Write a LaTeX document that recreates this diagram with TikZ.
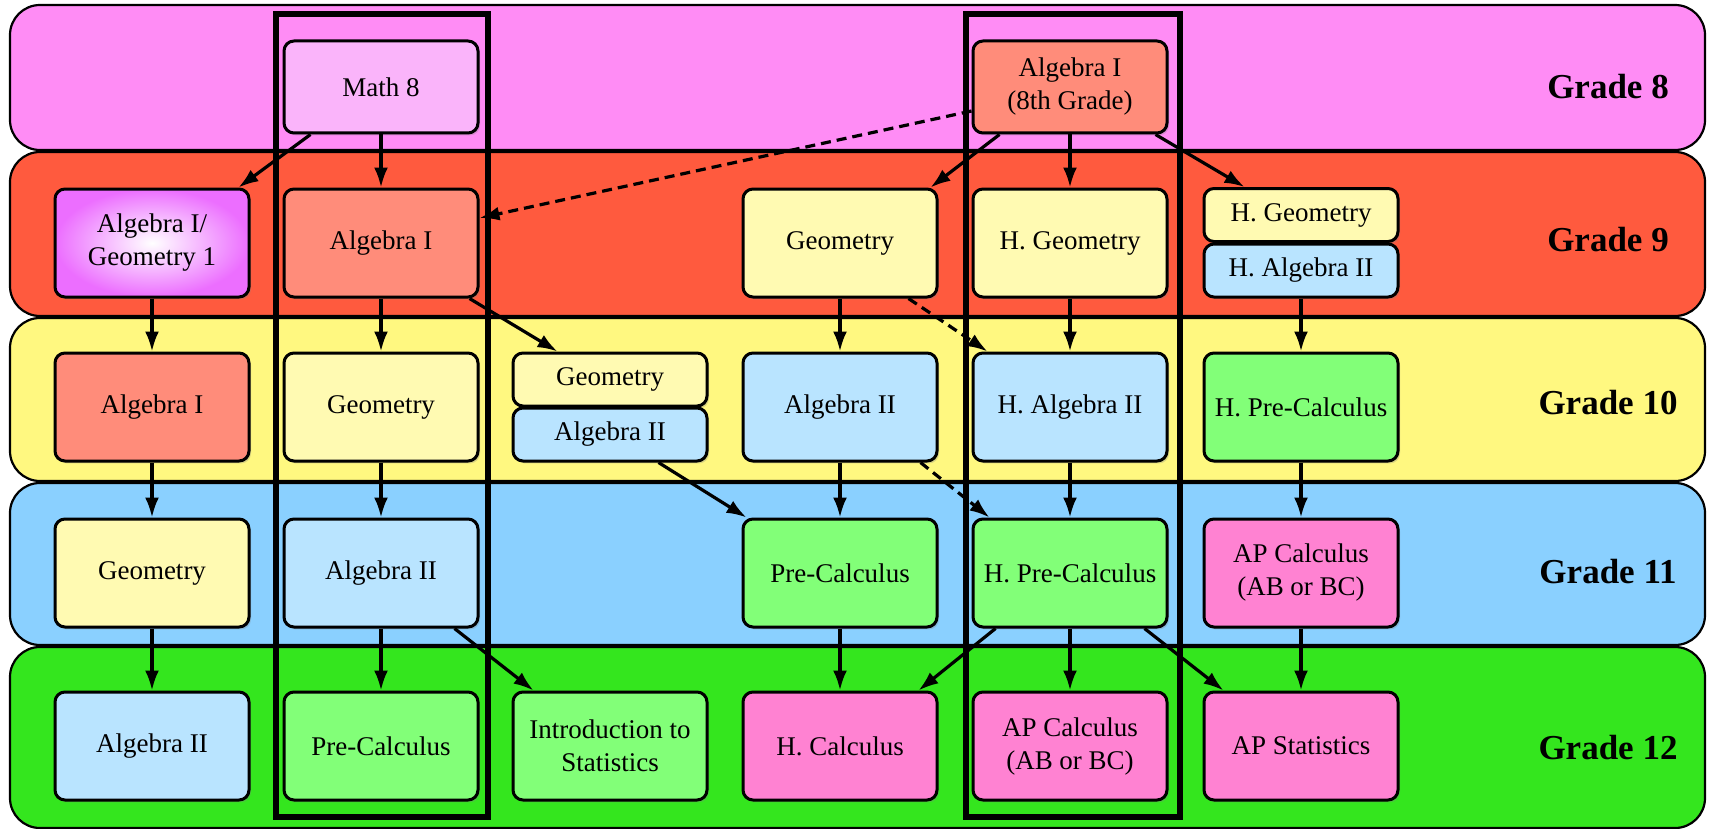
\documentclass[tikz,border=0pt]{standalone}
\usepackage{fontspec}
\setmainfont{Liberation Serif}
\usetikzlibrary{arrows.meta,shadows}

\definecolor{bandpink}{RGB}{255,140,245}
\definecolor{bandred}{RGB}{255,90,62}
\definecolor{bandyellow}{RGB}{255,248,128}
\definecolor{bandblue}{RGB}{138,208,255}
\definecolor{bandgreen}{RGB}{52,230,30}
\definecolor{mathpink}{RGB}{250,180,250}
\definecolor{algone}{RGB}{255,140,122}
\definecolor{geoyellow}{RGB}{255,250,178}
\definecolor{algtwo}{RGB}{185,228,255}
\definecolor{precalc}{RGB}{130,255,120}
\definecolor{calcpink}{RGB}{255,130,210}
\definecolor{mixviolet}{RGB}{236,110,255}

\tikzset{
  band/.style={draw=black, line width=1.1pt, rounded corners=15pt},
  course/.style={draw=black, line width=1.5pt, rounded corners=5pt,
    minimum width=97pt, minimum height=54pt, inner sep=2pt, align=center,
    font=\fontsize{13.5}{16.5}\selectfont,
    drop shadow={opacity=0.3, shadow xshift=1pt, shadow yshift=-1.2pt}},
  topbox/.style={course, minimum height=46pt},
  halfbox/.style={course, minimum height=26.5pt},
  grade/.style={font=\fontsize{17.5}{20}\selectfont\bfseries},
  track/.style={draw=black, line width=2.7pt},
  link/.style={->, line width=1.6pt},
  maybe/.style={link, dash pattern=on 5pt off 3pt}
}

\begin{document}
\begin{tikzpicture}[x=0.5pt, y=-0.5pt, >={Latex[length=10pt,width=7pt]}]
	\useasboundingbox (0,0) rectangle (1713,829);

	% grade bands
	\draw[band, fill=bandpink] (10,5) rectangle (1705,150);
	\draw[band, fill=bandred] (10,152) rectangle (1705,316);
	\draw[band, fill=bandyellow] (10,318) rectangle (1705,481);
	\draw[band, fill=bandblue] (10,483) rectangle (1705,645);
	\draw[band, fill=bandgreen] (10,647) rectangle (1705,828);

	% the two tracks
	\draw[track] (276,14) rectangle (488,817);
	\draw[track] (966,14) rectangle (1180,817);

	% grade 8
	\node[topbox, fill=mathpink] (math8) at (381,87) {Math 8};
	\node[topbox, fill=algone] (alg8) at (1070,87) {Algebra I\\(8th Grade)};
	% grade 9
	\node[course, shading=radial, inner color=white, outer color=mixviolet] (alggeo) at (152,243) {Algebra I/\\Geometry 1};
	\node[course, fill=algone] (alg9) at (381,243) {Algebra I};
	\node[course, fill=geoyellow] (geo9) at (840,243) {Geometry};
	\node[course, fill=geoyellow] (hgeo9) at (1070,243) {H. Geometry};
	\node[halfbox, fill=geoyellow] (hgeoix) at (1301,215) {H. Geometry};
	\node[halfbox, fill=algtwo] (halgix) at (1301,270.5) {H. Algebra II};
	% grade 10
	\node[course, fill=algone] (alg10a) at (152,407) {Algebra I};
	\node[course, fill=geoyellow] (geo10) at (381,407) {Geometry};
	\node[halfbox, fill=geoyellow] (geox) at (610,379.5) {Geometry};
	\node[halfbox, fill=algtwo] (algx) at (610,434.5) {Algebra II};
	\node[course, fill=algtwo] (alg10) at (840,407) {Algebra II};
	\node[course, fill=algtwo] (halg10) at (1070,407) {H. Algebra II};
	\node[course, fill=precalc] (hpre10) at (1301,407) {H. Pre-Calculus};
	% grade 11
	\node[course, fill=geoyellow] (geo11) at (152,573) {Geometry};
	\node[course, fill=algtwo] (alg11) at (381,573) {Algebra II};
	\node[course, fill=precalc] (pre11) at (840,573) {Pre-Calculus};
	\node[course, fill=precalc] (hpre11) at (1070,573) {H. Pre-Calculus};
	\node[course, fill=calcpink] (apcalc11) at (1301,573) {AP Calculus\\(AB or BC)};
	% grade 12
	\node[course, fill=algtwo] (alg12) at (152,746) {Algebra II};
	\node[course, fill=precalc] (pre12) at (381,746) {Pre-Calculus};
	\node[course, fill=precalc] (stats12) at (610,746) {Introduction to\\Statistics};
	\node[course, fill=calcpink] (hcalc12) at (840,746) {H. Calculus};
	\node[course, fill=calcpink] (apcalc12) at (1070,746) {AP Calculus\\(AB or BC)};
	\node[course, fill=calcpink] (apstat12) at (1301,746) {AP Statistics};

	\node[grade] (gviii) at (1608,87) {Grade 8};
	\node[grade] (gix) at (1608,240) {Grade 9};
	\node[grade] (gx) at (1608,403) {Grade 10};
	\node[grade] (gxi) at (1608,572) {Grade 11};
	\node[grade] (gxii) at (1608,748) {Grade 12};

	\draw[link] ([xshift=14pt]math8.south west) -- ([xshift=-6pt]alggeo.north east);
	\draw[link] (math8) -- (alg9);
	\draw[maybe] ([yshift=-12pt]alg8.west) -- ([yshift=12.5pt]alg9.east);
	\draw[link] ([xshift=14pt]alg8.south west) -- ([xshift=-4pt]geo9.north east);
	\draw[link] (alg8) -- (hgeo9);
	\draw[link] ([xshift=-6.5pt]alg8.south east) -- ([xshift=21pt]hgeoix.north west);

	\draw[link] (alggeo) -- (alg10a);
	\draw[link] (alg9) -- (geo10);
	\draw[link] ([xshift=-5pt]alg9.south east) -- ([xshift=23pt]geox.north west);
	\draw[link] (geo9) -- (alg10);
	\draw[maybe] ([xshift=-15pt]geo9.south east) -- ([xshift=8pt]halg10.north west);
	\draw[link] (hgeo9) -- (halg10);
	\draw[link] (halgix) -- (hpre10);

	\draw[link] (alg10a) -- (geo11);
	\draw[link] (geo10) -- (alg11);
	\draw[link] ([xshift=-25pt]algx.south east) -- ([xshift=2.5pt]pre11.north west);
	\draw[link] (alg10) -- (pre11);
	\draw[maybe] ([xshift=-9pt]alg10.south east) -- ([xshift=9pt]hpre11.north west);
	\draw[link] (halg10) -- (hpre11);
	\draw[link] (hpre10) -- (apcalc11);

	\draw[link] (geo11) -- (alg12);
	\draw[link] (alg11) -- (pre12);
	\draw[link] ([xshift=-12.5pt]alg11.south east) -- ([xshift=11pt]stats12.north west);
	\draw[link] (pre11) -- (hcalc12);
	\draw[link] ([xshift=12pt]hpre11.south west) -- ([xshift=-10pt]hcalc12.north east);
	\draw[link] (hpre11) -- (apcalc12);
	\draw[link] ([xshift=-12pt]hpre11.south east) -- ([xshift=10.5pt]apstat12.north west);
	\draw[link] (apcalc11) -- (apstat12);
\end{tikzpicture}
\end{document}
